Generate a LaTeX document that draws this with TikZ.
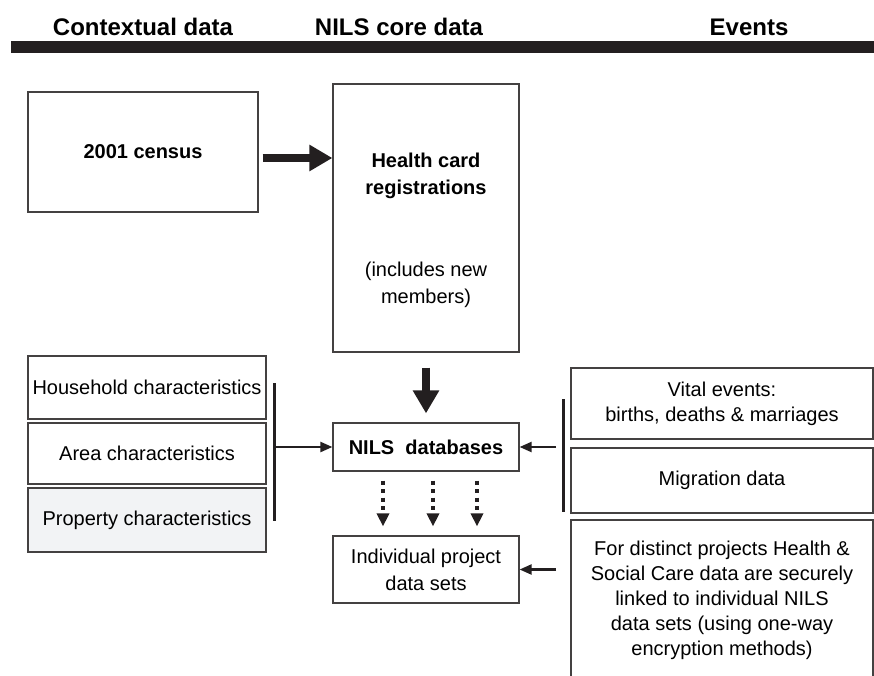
\documentclass[tikz,border=0pt]{standalone}
\usepackage{fontspec}
\setmainfont{Liberation Sans}
\usepackage{tikz}
\usetikzlibrary{arrows, arrows.meta, positioning}
\definecolor{ink}{RGB}{35,31,32}
\definecolor{propgray}{RGB}{242,243,245}
\tikzstyle{box} = [draw=ink!85, line width=1.2pt, align=center, inner sep=0pt, font=\fontsize{20}{25}\selectfont]
\tikzstyle{boldbox} = [box, font=\fontsize{20}{25}\selectfont\bfseries]
\tikzstyle{head} = [font=\fontsize{24}{28}\selectfont\bfseries]
\tikzstyle{fat} = [draw=ink, line width=8pt, -{Triangle[length=23pt,width=25pt]}]
\tikzstyle{dots} = [draw=ink, line width=3.5pt, dash pattern=on 4pt off 4.5pt, -{Triangle[length=13pt,width=12pt]}]
\tikzstyle{line} = [draw=ink, line width=2.2pt, -{Triangle[length=12pt,width=10pt]}]
\tikzstyle{bar} = [draw=ink, line width=3pt]

\begin{document}
\begin{tikzpicture}[x=1pt,y=-1pt]
		\useasboundingbox (0,0) rectangle (874,676);
		\clip (0,0) rectangle (874,676);
		% column heads
		\node[head] (hctx) at (143,27) {Contextual data};
		\node[head] (hcore) at (399,27) {NILS core data};
		\node[head] (hev) at (749,27) {Events};
		\fill[ink] (11,41) rectangle (874,53);
		% core
		\node[boldbox, minimum width=230pt, minimum height=120pt] (census) at (143,152) {2001 census};
		\node[box, minimum width=186pt, minimum height=268pt] (health) at (426,218) {};
		\node[align=center, font=\fontsize{20}{27}\selectfont] (healthtxt) at (426,230) {\textbf{Health card}\\\textbf{registrations}\\[55pt](includes new\\members)};
		\node[boldbox, minimum width=186pt, minimum height=48pt] (nils) at (426,447) {NILS\ \ databases};
		\node[box, minimum width=186pt, minimum height=67pt, font=\fontsize{20}{27}\selectfont] (indiv) at (426,569.5) {Individual project\\data sets};
		% context
		\node[box, minimum width=238pt, minimum height=63pt] (household) at (147,387.5) {Household characteristics};
		\node[box, minimum width=238pt, minimum height=61pt] (area) at (147,453.5) {Area characteristics};
		\node[box, fill=propgray, minimum width=238pt, minimum height=64pt] (property) at (147,520) {Property characteristics};
		% events
		\node[box, minimum width=302pt, minimum height=71pt] (vital) at (722,403.5) {Vital events:\\births, deaths \& marriages};
		\node[box, minimum width=302pt, minimum height=65pt] (migration) at (722,480.5) {Migration data};
		\node[box, minimum width=302pt, minimum height=160pt] (distinct) at (722,600) {For distinct projects Health \&\\Social Care data are securely\\linked to individual NILS\\data sets (using one-way\\encryption methods)};
		% arrows
		\coordinate (cs) at ([yshift=-6pt]census.east);
		\draw[fat, shorten <=4pt] (cs) -- (cs -| health.west);
		\draw[fat, shorten <=15pt, shorten >=9pt] (health.south) -- (nils.north);
		\foreach \dx in {-43,7,51}
			\draw[dots, shorten <=9pt, shorten >=9pt] ([xshift=\dx pt]nils.south) -- ([xshift=\dx pt]indiv.north);
		\coordinate (lbt) at (274,383);
		\coordinate (lbb) at (274,521);
		\draw[bar] (lbt) -- (lbb);
		\draw[line] (lbt |- nils.west) -- (nils.west);
		\coordinate (rbt) at (563,399);
		\coordinate (rbb) at (563,512);
		\draw[bar] (rbt) -- (rbb);
		\draw[line, shorten <=7pt] (rbt |- nils.east) -- (nils.east);
		\draw[line, shorten <=7pt] (rbt |- indiv.east) -- (indiv.east);
	\end{tikzpicture}
\end{document}
